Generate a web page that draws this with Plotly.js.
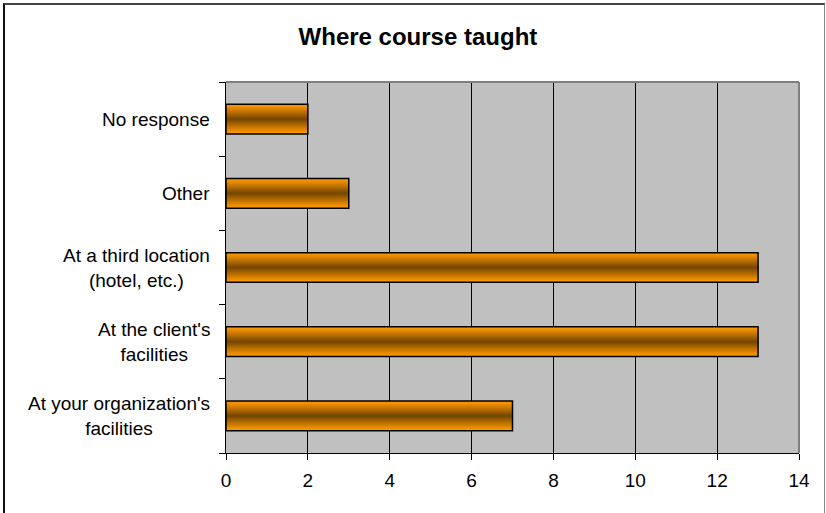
<!DOCTYPE html>
<html>
<head>
<meta charset="utf-8">
<script src="https://cdn.plot.ly/plotly-3.0.1.min.js"></script>
<style>
  html, body { margin: 0; padding: 0; background: #fff; }
  #wrap { position: relative; width: 826px; height: 513px; }
  #chart { width: 826px; height: 513px; }
  #frame { position: absolute; left: 3px; top: 3px; width: 822px; height: 520px;
           border-left: 2px solid #111; border-top: 2px solid #444; border-right: 1px solid #888;
           box-sizing: border-box; pointer-events: none; }
</style>
</head>
<body>
<div id="wrap">
  <div id="chart"></div>
  <div id="frame"></div>
</div>
<script>
// Data
const categories = [
  "At your organization's<br>facilities",
  "At the client's<br>facilities",
  "At a third location<br>(hotel, etc.)",
  "Other",
  "No response"
];
const values = [7, 13, 13, 3, 2];
const titleText = "Where course taught";
const xTickVals = [0, 2, 4, 6, 8, 10, 12, 14];

// Gradient simulated by overlaid bars of decreasing thickness
const edge = [255, 153, 0];
const mid = [120, 72, 0];
const N = 14;
const barW = 0.4;
const traces = [];
for (let i = 0; i < N; i++) {
  const t = Math.pow(i / (N - 1), 1.1);
  const c = edge.map((e, k) => Math.round(e + (mid[k] - e) * t));
  traces.push({
    type: 'bar',
    orientation: 'h',
    x: values,
    y: categories,
    width: barW * (1 - i / N),
    marker: { color: `rgb(${c[0]},${c[1]},${c[2]})`, line: { width: 0 } },
    hoverinfo: 'skip',
    showlegend: false
  });
}
traces.push({
  type: 'bar',
  orientation: 'h',
  x: values,
  y: categories,
  width: barW,
  marker: { color: 'rgba(0,0,0,0)', line: { color: '#000', width: 1.5 } },
  hoverinfo: 'x+y',
  showlegend: false
});

const font = { family: 'Liberation Sans, Arial, sans-serif', size: 19, color: '#000' };

// Category labels as centre-aligned annotations placed on the category axis
const labelAnnotations = categories.map(c => ({
  xref: 'paper', yref: 'y',
  x: 0, y: c,
  xanchor: 'right', yanchor: 'middle',
  xshift: -14,
  text: c,
  align: 'center',
  showarrow: false,
  font: font
}));

const layout = {
  width: 826,
  height: 513,
  margin: { l: 226, r: 27, t: 82, b: 60, pad: 0 },
  paper_bgcolor: '#fff',
  plot_bgcolor: '#c0c0c0',
  barmode: 'overlay',
  font: font,
  title: {
    text: '<b>' + titleText + '</b>',
    font: { family: 'Liberation Sans, Arial, sans-serif', size: 24, color: '#000' },
    xref: 'container', x: 0.506, xanchor: 'center',
    yref: 'container', y: 1 - 37 / 513, yanchor: 'middle'
  },
  xaxis: {
    range: [0, 14],
    tickvals: xTickVals,
    ticktext: xTickVals.map(String),
    showgrid: true,
    gridcolor: '#000',
    gridwidth: 1,
    showline: true,
    linecolor: '#000',
    linewidth: 1,
    ticks: 'outside',
    ticklen: 6,
    tickcolor: '#000',
    tickfont: font,
    ticklabelstandoff: 4,
    zeroline: false,
    fixedrange: true
  },
  yaxis: {
    type: 'category',
    categoryorder: 'array',
    categoryarray: categories,
    showgrid: false,
    showline: true,
    linecolor: '#000',
    linewidth: 1,
    ticks: 'outside',
    tickson: 'boundaries',
    ticklen: 6,
    tickcolor: '#000',
    showticklabels: false,
    zeroline: false,
    fixedrange: true
  },
  annotations: labelAnnotations,
  shapes: [
    { type: 'line', xref: 'paper', yref: 'paper', x0: 0, x1: 1, y0: 1, y1: 1,
      line: { color: '#808080', width: 2 }, layer: 'above' },
    { type: 'line', xref: 'paper', yref: 'paper', x0: 1, x1: 1, y0: 0, y1: 1,
      line: { color: '#808080', width: 2 }, layer: 'above' }
  ]
};

Plotly.newPlot('chart', traces, layout, { displayModeBar: false, staticPlot: true });
</script>
</body>
</html>
